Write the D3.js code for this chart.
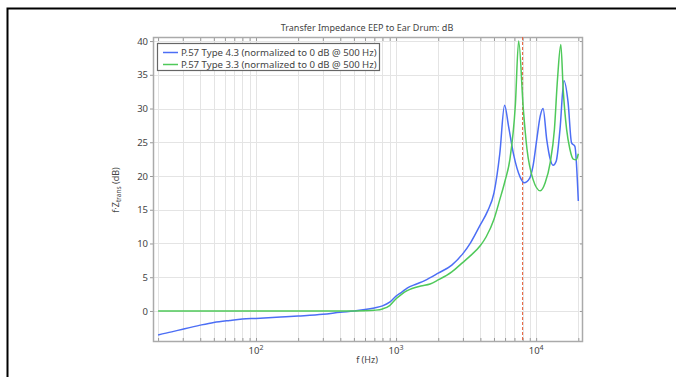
<!DOCTYPE html>
<html lang="en">
  <head>
    <meta charset="utf-8" />
    <title>Transfer Impedance EEP to Ear Drum</title>
    <script src="https://d3js.org/d3.v7.min.js"></script>
    <style type="text/css">
      body {
        margin: 0;
        background: #fff;
      }
      text {
        font-family: "Noto Sans", sans-serif;
        fill: #444;
      }
    </style>
  </head>
  <body>
    <script type="text/javascript">
      //Data
      var freqType43 = [20, 25, 30, 40, 50, 65, 80, 100, 150, 200, 300, 400, 500, 600, 700, 800, 900, 1000, 1100, 1200, 1400, 1600, 2000, 2500, 3000, 3400, 4000, 4500, 5000, 5500, 5950, 6350, 6900, 7700, 8200, 9000, 9500, 10100, 10700, 11200, 11900, 12600, 13200, 13900, 14800, 15800, 16900, 17900, 18900, 20000];
      var dbType43 = [-3.55, -3.1, -2.7, -2.1, -1.7, -1.4, -1.2, -1.1, -0.9, -0.75, -0.5, -0.2, 0.0, 0.2, 0.45, 0.75, 1.3, 2.2, 2.8, 3.4, 4.0, 4.5, 5.6, 6.8, 8.5, 10.1, 12.8, 14.8, 17.5, 23.3, 30.5, 27.4, 23.2, 19.8, 19.0, 19.7, 21.5, 25.4, 28.9, 30.0, 25.4, 22.5, 21.6, 22.2, 26.9, 34.1, 30.9, 24.9, 24.4, 16.3];

      var freqType33 = [20, 50, 100, 200, 300, 400, 500, 600, 700, 800, 900, 1000, 1100, 1200, 1500, 1750, 2000, 2500, 3000, 3400, 4000, 4400, 5000, 5500, 6000, 6500, 7100, 7500, 8100, 8600, 9500, 10700, 11600, 12600, 13500, 14200, 15000, 15600, 16500, 17400, 18400, 19300, 20000];
      var dbType33 = [0, 0, 0, 0, 0, 0, 0, 0.02, 0.1, 0.3, 0.8, 1.8, 2.5, 3.0, 3.7, 4.0, 4.6, 5.8, 7.2, 8.2, 9.7, 11.0, 13.6, 16.5, 19.3, 22.5, 30.4, 40.0, 29.9, 24.0, 19.5, 17.8, 19.0, 22.0, 26.9, 34.3, 39.5, 32.8, 26.9, 24.0, 22.5, 22.4, 23.3];

      var seriesNames = [
        "P.57 Type 4.3 (normalized to 0 dB @ 500 Hz)",
        "P.57 Type 3.3 (normalized to 0 dB @ 500 Hz)",
      ];
      var seriesColors = ["#4c6ef5", "#4fc95a"];
      var yTicks = [0, 5, 10, 15, 20, 25, 30, 35, 40];
      var decadeTicks = [100, 1000, 10000];
      var markerFreq = 8000;

      //Width and height
      var w = 676;
      var h = 377;
      var plot = { left: 153, right: 583, top: 37, bottom: 342 };

      var xScale = d3
        .scaleLog()
        .domain([18.4, 21600])
        .range([plot.left, plot.right]);

      var yScale = d3
        .scaleLinear()
        .domain([-4.6, 40.6])
        .range([plot.bottom, plot.top]);

      //Minor tick positions: 20..90, 100..900, ...
      var minorTicks = [];
      [10, 100, 1000, 10000].forEach(function (d) {
        for (var k = 1; k < 10; k++) {
          var f = d * k;
          if (f >= 20 && f <= 20000) minorTicks.push(f);
        }
      });

      //Create SVG element
      var svg = d3
        .select("body")
        .append("svg")
        .attr("width", w)
        .attr("height", h);

      //Black frame of the screenshot
      svg
        .append("path")
        .attr("d", "M7.5," + h + "V8.5H" + w)
        .attr("fill", "none")
        .attr("stroke", "#000")
        .attr("stroke-width", 2);

      svg
        .append("defs")
        .append("clipPath")
        .attr("id", "clip")
        .append("rect")
        .attr("x", plot.left)
        .attr("y", plot.top)
        .attr("width", plot.right - plot.left)
        .attr("height", plot.bottom - plot.top);

      //Grid
      var grid = svg.append("g").attr("stroke", "#e4e4e4").attr("stroke-width", 1);
      grid
        .selectAll("line.vx")
        .data(minorTicks)
        .enter()
        .append("line")
        .attr("x1", function (d) { return Math.round(xScale(d)) + 0.5; })
        .attr("x2", function (d) { return Math.round(xScale(d)) + 0.5; })
        .attr("y1", plot.top)
        .attr("y2", plot.bottom);
      grid
        .selectAll("line.hy")
        .data(yTicks)
        .enter()
        .append("line")
        .attr("y1", function (d) { return Math.round(yScale(d)) + 0.5; })
        .attr("y2", function (d) { return Math.round(yScale(d)) + 0.5; })
        .attr("x1", plot.left)
        .attr("x2", plot.right);

      //Axes (ticks on all four sides)
      var axisColor = "#999";
      var xBottom = svg
        .append("g")
        .attr("transform", "translate(0," + plot.bottom + ")")
        .call(d3.axisBottom(xScale).tickValues(minorTicks).tickSize(-4).tickFormat(""));
      var xTop = svg
        .append("g")
        .attr("transform", "translate(0," + plot.top + ")")
        .call(d3.axisTop(xScale).tickValues(minorTicks).tickSize(-4).tickFormat(""));
      var yLeft = svg
        .append("g")
        .attr("transform", "translate(" + plot.left + ",0)")
        .call(d3.axisLeft(yScale).tickValues(yTicks).tickSize(3).tickPadding(2));
      var yRight = svg
        .append("g")
        .attr("transform", "translate(" + plot.right + ",0)")
        .call(d3.axisRight(yScale).tickValues(yTicks).tickSize(-3).tickFormat(""));

      [xBottom, xTop, yLeft, yRight].forEach(function (g) {
        g.select(".domain").remove();
        g.selectAll("line").attr("stroke", axisColor);
      });
      yLeft.selectAll("text").style("font-size", "9.5px").attr("fill", "#444");

      svg
        .append("rect")
        .attr("x", plot.left + 0.5)
        .attr("y", plot.top + 0.5)
        .attr("width", plot.right - plot.left - 1)
        .attr("height", plot.bottom - plot.top - 1)
        .attr("fill", "none")
        .attr("stroke", "#aaa")
        .attr("stroke-width", 1.5);

      //Decade labels 10^2, 10^3, 10^4
      var decLabels = svg
        .selectAll("text.dec")
        .data(decadeTicks)
        .enter()
        .append("text")
        .attr("x", function (d) { return xScale(d); })
        .attr("y", 354)
        .attr("text-anchor", "middle")
        .style("font-size", "9.5px");
      decLabels.append("tspan").text("10");
      decLabels
        .append("tspan")
        .attr("dy", -4)
        .style("font-size", "7px")
        .text(function (d) { return Math.round(Math.log10(d)); });

      //Marker at 8 kHz
      svg
        .append("line")
        .attr("x1", xScale(markerFreq))
        .attr("x2", xScale(markerFreq))
        .attr("y1", plot.top)
        .attr("y2", plot.bottom)
        .attr("stroke", "#e8603c")
        .attr("stroke-width", 1)
        .attr("stroke-dasharray", "3,2");

      //Curves
      var line = d3
        .line()
        .x(function (d) { return xScale(d[0]); })
        .y(function (d) { return yScale(d[1]); })
        .curve(d3.curveMonotoneX);

      var series = [
        d3.zip(freqType43, dbType43),
        d3.zip(freqType33, dbType33),
      ];

      svg
        .append("g")
        .attr("clip-path", "url(#clip)")
        .selectAll("path")
        .data(series)
        .enter()
        .append("path")
        .attr("d", line)
        .attr("fill", "none")
        .attr("stroke", function (d, i) { return seriesColors[i]; })
        .attr("stroke-width", 1.5);

      //Legend
      var legend = svg.append("g");
      legend
        .append("rect")
        .attr("x", 157.5)
        .attr("y", 43.5)
        .attr("width", 222)
        .attr("height", 27)
        .attr("fill", "#fff")
        .attr("stroke", "#666")
        .attr("stroke-width", 1.2);
      var items = legend
        .selectAll("g.item")
        .data(seriesNames)
        .enter()
        .append("g")
        .attr("transform", function (d, i) {
          return "translate(0," + (52.5 + i * 12) + ")";
        });
      items
        .append("line")
        .attr("x1", 163)
        .attr("x2", 178)
        .attr("stroke", function (d, i) { return seriesColors[i]; })
        .attr("stroke-width", 1.5);
      items
        .append("text")
        .attr("x", 181)
        .attr("y", 3.3)
        .style("font-size", "9.6px")
        .attr("fill", "#333")
        .text(function (d) { return d; });

      //Title and axis labels
      svg
        .append("text")
        .attr("x", 367)
        .attr("y", 31)
        .attr("text-anchor", "middle")
        .style("font-size", "9px")
        .attr("fill", "#333")
        .text("Transfer Impedance EEP to Ear Drum: dB");

      svg
        .append("text")
        .attr("x", 367)
        .attr("y", 363)
        .attr("text-anchor", "middle")
        .style("font-size", "9px")
        .text("f (Hz)");

      var yLabel = svg
        .append("text")
        .attr("transform", "translate(119,190) rotate(-90)")
        .attr("text-anchor", "middle")
        .style("font-size", "9px");
      yLabel.append("tspan").text("f·Z");
      yLabel.append("tspan").attr("dy", 2).style("font-size", "6.5px").text("trans");
      yLabel.append("tspan").attr("dy", -2).text(" (dB)");
    </script>
  </body>
</html>
